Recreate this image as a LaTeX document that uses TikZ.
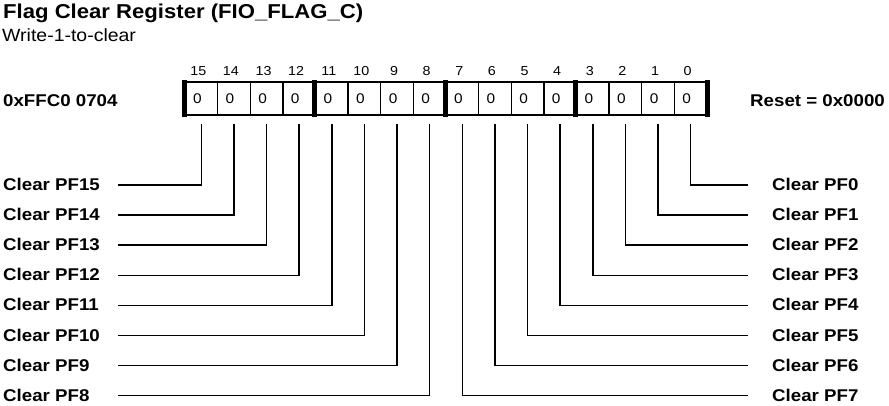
\documentclass[tikz,border=0pt]{standalone}
\usepackage{fontspec}
\setmainfont{Liberation Sans}[FakeStretch=1.1]
\begin{document}
\begin{tikzpicture}[x=1pt,y=-1pt,
  cell/.style={draw, line width=1.4pt, minimum width=32.625pt, minimum height=33pt, inner sep=0pt},
  bar/.style={line width=5pt},
  conn/.style={line width=1.5pt},
  lbl/.style={font=\fontsize{17}{17}\selectfont\bfseries, inner sep=0pt},
  bitval/.style={anchor=base, inner sep=0pt, font=\fontsize{14}{14}\selectfont},
  bitnum/.style={anchor=base, inner sep=0pt, font=\fontsize{13}{13}\selectfont}]
\useasboundingbox (0,0) rectangle (889,405);
\node[anchor=base west, inner sep=0pt, font=\fontsize{20.1}{20}\selectfont\bfseries] (title) at (3,18.3) {Flag Clear Register (FIO\_FLAG\_C)};
\node[anchor=base west, inner sep=0pt, font=\fontsize{17.7}{18}\selectfont] (sub) at (2,41.7) {Write-1-to-clear};
\node[anchor=base west, lbl] (addr) at (3,106.5) {0xFFC0 0704};
\node[anchor=base west, lbl] (reset) at (750,106) {Reset = 0x0000};
\foreach \b in {0,...,15}{
  \pgfmathsetmacro\cx{185+(15-\b+0.5)*32.625}
  \node[cell] (c\b) at (\cx,98.5) {};
  \node[bitval] (z\b) at (\cx-4,103) {0};
  \node[bitnum] (n\b) at (\cx-3,75) {\b};
}
\foreach \n/\a in {15/west,11/west,7/west,3/west,0/east}
  \draw[bar] ([yshift=1.5pt]c\n.north \a) -- ([yshift=-1.5pt]c\n.south \a);
\foreach \b in {8,...,15}{
  \pgfmathsetmacro\ry{185+(15-\b)*30.1}
  \node[lbl, anchor=base west] (l\b) at (3,\ry+5.5) {Clear PF\b};
  \coordinate (e\b) at (118,\ry);
  \draw[conn] ([yshift=-8pt]c\b.south) |- (e\b);
}
\foreach \b in {0,...,7}{
  \pgfmathsetmacro\ry{185+\b*30.1}
  \node[lbl, anchor=base west] (l\b) at (772,\ry+5.5) {Clear PF\b};
  \coordinate (e\b) at (748,\ry);
  \draw[conn] ([yshift=-8pt]c\b.south) |- (e\b);
}
\end{tikzpicture}
\end{document}
